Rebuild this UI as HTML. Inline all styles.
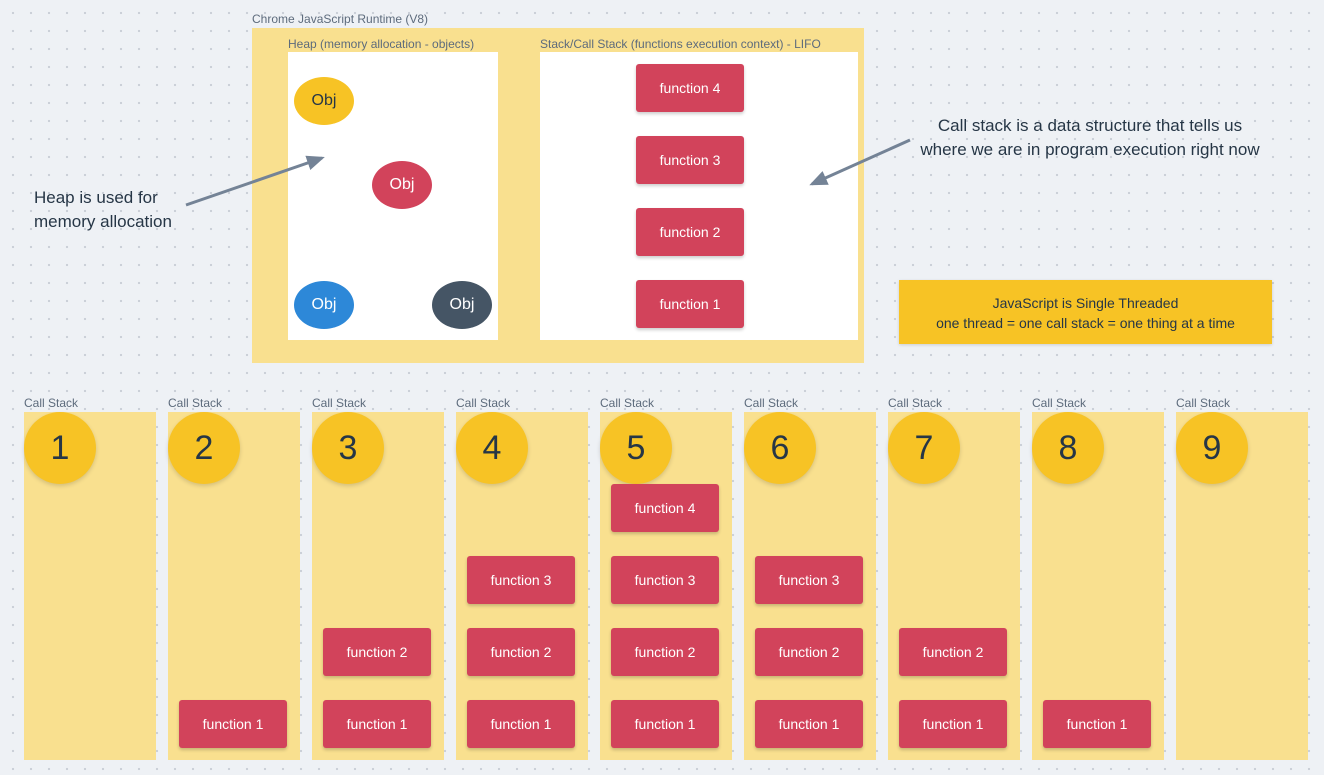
<!DOCTYPE html>
<html><head><style>
body{margin:0;width:1324px;height:775px;overflow:hidden;background:#eef1f5;background-image:radial-gradient(circle,#c9ced6 1px,transparent 1.3px);background-size:18px 18px;background-position:4px 4px;font-family:"Liberation Sans","DejaVu Sans",sans-serif;position:relative}
div{position:absolute;box-sizing:border-box}
.lbl{font-size:12px;color:#5d6b7c;white-space:nowrap}
.col{background:#f9e08f;width:132px;top:412px;height:348px}
.num{width:72px;height:72px;border-radius:50%;background:#f7c325;color:#263646;font-size:34px;text-align:center;line-height:72px;top:412px;box-shadow:0 2px 4px rgba(0,0,0,.15)}
.fn{width:108px;height:48px;background:#d2435b;color:#fff;font-size:14px;text-align:center;line-height:48px;border-radius:3px;box-shadow:0 2px 3px rgba(0,0,0,.2)}
.obj{width:60px;height:48px;border-radius:50%;text-align:center;line-height:48px;font-size:16px}
.txt{font-size:17px;color:#263646;line-height:24px;white-space:nowrap}
</style></head><body>
<div class="lbl" style="left:252px;top:12px">Chrome JavaScript Runtime (V8)</div>
<div style="left:252px;top:28px;width:612px;height:335px;background:#f9e08f"></div>
<div class="lbl" style="left:288px;top:37px">Heap (memory allocation - objects)</div>
<div class="lbl" style="left:540px;top:37px">Stack/Call Stack (functions execution context) - LIFO</div>
<div style="left:288px;top:52px;width:210px;height:288px;background:#fff"></div>
<div style="left:540px;top:52px;width:318px;height:288px;background:#fff"></div>
<div class="obj" style="left:294px;top:77px;background:#f7c325;color:#263646">Obj</div>
<div class="obj" style="left:372px;top:161px;background:#d2435b;color:#fff">Obj</div>
<div class="obj" style="left:294px;top:281px;background:#2d88d8;color:#fff">Obj</div>
<div class="obj" style="left:432px;top:281px;background:#455565;color:#fff">Obj</div>
<div class="fn" style="left:636px;top:64px">function 4</div>
<div class="fn" style="left:636px;top:136px">function 3</div>
<div class="fn" style="left:636px;top:208px">function 2</div>
<div class="fn" style="left:636px;top:280px">function 1</div>
<div class="txt" style="left:34px;top:186px">Heap is used for<br>memory allocation</div>
<div class="txt" style="left:894px;top:114px;width:392px;text-align:center">Call stack is a data structure that tells us<br>where we are in program execution right now</div>
<svg style="position:absolute;left:0;top:0" width="1324" height="775">
<defs><marker id="a" markerWidth="6" markerHeight="6" refX="5" refY="3" orient="auto"><path d="M0,0.5 L6,3 L0,5.5 Z" fill="#748396"/></marker></defs>
<line x1="186" y1="205" x2="322" y2="158" stroke="#748396" stroke-width="3" marker-end="url(#a)"/>
<line x1="910" y1="140" x2="812" y2="184" stroke="#748396" stroke-width="3" marker-end="url(#a)"/>
</svg>
<div style="left:899px;top:280px;width:373px;height:64px;background:#f7c325;color:#263646;font-size:14px;text-align:center;padding-top:13px;line-height:20px;box-shadow:0 1px 3px rgba(0,0,0,.15)">JavaScript is Single Threaded<br>one thread = one call stack = one thing at a time</div>

<div class="lbl" style="left:24px;top:396px">Call Stack</div><div class="col" style="left:24px"></div><div class="num" style="left:24px">1</div>
<div class="lbl" style="left:168px;top:396px">Call Stack</div><div class="col" style="left:168px"></div><div class="num" style="left:168px">2</div>
<div class="lbl" style="left:312px;top:396px">Call Stack</div><div class="col" style="left:312px"></div><div class="num" style="left:312px">3</div>
<div class="lbl" style="left:456px;top:396px">Call Stack</div><div class="col" style="left:456px"></div><div class="num" style="left:456px">4</div>
<div class="lbl" style="left:600px;top:396px">Call Stack</div><div class="col" style="left:600px"></div><div class="num" style="left:600px">5</div>
<div class="lbl" style="left:744px;top:396px">Call Stack</div><div class="col" style="left:744px"></div><div class="num" style="left:744px">6</div>
<div class="lbl" style="left:888px;top:396px">Call Stack</div><div class="col" style="left:888px"></div><div class="num" style="left:888px">7</div>
<div class="lbl" style="left:1032px;top:396px">Call Stack</div><div class="col" style="left:1032px"></div><div class="num" style="left:1032px">8</div>
<div class="lbl" style="left:1176px;top:396px">Call Stack</div><div class="col" style="left:1176px"></div><div class="num" style="left:1176px">9</div>

<div class="fn" style="left:179px;top:700px">function 1</div>
<div class="fn" style="left:323px;top:700px">function 1</div>
<div class="fn" style="left:323px;top:628px">function 2</div>
<div class="fn" style="left:467px;top:700px">function 1</div>
<div class="fn" style="left:467px;top:628px">function 2</div>
<div class="fn" style="left:467px;top:556px">function 3</div>
<div class="fn" style="left:611px;top:700px">function 1</div>
<div class="fn" style="left:611px;top:628px">function 2</div>
<div class="fn" style="left:611px;top:556px">function 3</div>
<div class="fn" style="left:611px;top:484px">function 4</div>
<div class="fn" style="left:755px;top:700px">function 1</div>
<div class="fn" style="left:755px;top:628px">function 2</div>
<div class="fn" style="left:755px;top:556px">function 3</div>
<div class="fn" style="left:899px;top:700px">function 1</div>
<div class="fn" style="left:899px;top:628px">function 2</div>
<div class="fn" style="left:1043px;top:700px">function 1</div>
</body></html>
